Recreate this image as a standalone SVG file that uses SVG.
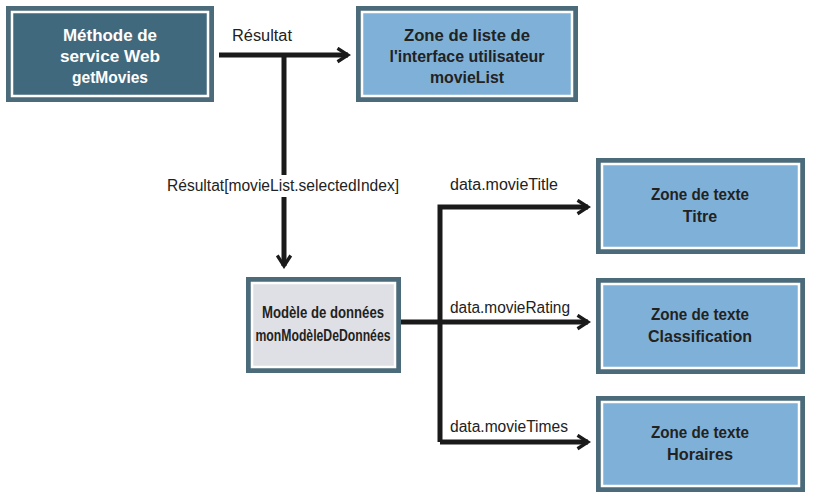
<svg xmlns="http://www.w3.org/2000/svg" width="814" height="492" viewBox="0 0 814 492">
<style>
.o{fill:#4b6b7b}
.t{font-family:"Liberation Sans Narrow","Liberation Sans",sans-serif;font-size:16px;font-weight:bold;text-anchor:middle;fill:#222}
.l{font-family:"Liberation Sans Narrow","Liberation Sans",sans-serif;font-size:16px;fill:#222}
.c{fill:none;stroke:#1a1a1a;stroke-width:5}
</style>
<defs>
<marker id="a" viewBox="0 0 10 10" refX="8" refY="5" markerWidth="3" markerHeight="3.4" orient="auto" markerUnits="strokeWidth">
<path d="M1,0.5 L8,5 L1,9.5" fill="none" stroke="#1a1a1a" stroke-width="2.2"/>
</marker>
</defs>
<rect width="814" height="492" fill="#fff"/>
<g id="n1"><rect class="o" x="6" y="6" width="208" height="96"/><rect x="12" y="12" width="196" height="84" fill="#41697d" stroke="#fff" stroke-width="2.5"/>
<text class="t" style="fill:#fff"><tspan x="110" y="41" textLength="94" lengthAdjust="spacingAndGlyphs">Méthode de</tspan><tspan x="110" y="62" textLength="100" lengthAdjust="spacingAndGlyphs">service Web</tspan><tspan x="110" y="83" textLength="76" lengthAdjust="spacingAndGlyphs">getMovies</tspan></text></g>
<g id="n2"><rect class="o" x="356" y="6" width="222" height="96"/><rect x="362" y="12" width="210" height="84" fill="#7fb1d8" stroke="#fff" stroke-width="2.5"/>
<text class="t"><tspan x="467" y="41" textLength="126" lengthAdjust="spacingAndGlyphs">Zone de liste de</tspan><tspan x="467" y="62" textLength="155" lengthAdjust="spacingAndGlyphs">l'interface utilisateur</tspan><tspan x="467" y="83" textLength="74" lengthAdjust="spacingAndGlyphs">movieList</tspan></text></g>
<g id="n3"><rect class="o" x="246" y="277" width="155" height="96"/><rect x="252" y="283" width="143" height="84" fill="#dfe0e5" stroke="#fff" stroke-width="2.5"/>
<text class="t"><tspan x="323" y="318" textLength="122" lengthAdjust="spacingAndGlyphs">Modèle de données</tspan><tspan x="323" y="341" textLength="135" lengthAdjust="spacingAndGlyphs">monModèleDeDonnées</tspan></text></g>
<g id="n4"><rect class="o" x="596" y="158" width="209" height="96"/><rect x="602" y="164" width="197" height="84" fill="#7fb1d8" stroke="#fff" stroke-width="2.5"/>
<text class="t"><tspan x="700" y="200" textLength="98" lengthAdjust="spacingAndGlyphs">Zone de texte</tspan><tspan x="700" y="222">Titre</tspan></text></g>
<g id="n5"><rect class="o" x="596" y="278" width="209" height="96"/><rect x="602" y="284" width="197" height="84" fill="#7fb1d8" stroke="#fff" stroke-width="2.5"/>
<text class="t"><tspan x="700" y="320" textLength="98" lengthAdjust="spacingAndGlyphs">Zone de texte</tspan><tspan x="700" y="342" textLength="104" lengthAdjust="spacingAndGlyphs">Classification</tspan></text></g>
<g id="n6"><rect class="o" x="596" y="396" width="209" height="96"/><rect x="602" y="402" width="197" height="84" fill="#7fb1d8" stroke="#fff" stroke-width="2.5"/>
<text class="t"><tspan x="700" y="438" textLength="98" lengthAdjust="spacingAndGlyphs">Zone de texte</tspan><tspan x="700" y="460" textLength="66" lengthAdjust="spacingAndGlyphs">Horaires</tspan></text></g>
<g id="connectors">
<path class="c" d="M219,55 H348" marker-end="url(#a)"/>
<path class="c" d="M284,57 V266" marker-end="url(#a)"/>
<path class="c" d="M401,322 H588" marker-end="url(#a)"/>
<path class="c" d="M440,442 V207 H588" marker-end="url(#a)"/>
<path class="c" d="M440,442 H588" marker-end="url(#a)"/>
<rect x="165" y="175" width="236" height="22" fill="#fff"/>
<text class="l" x="232" y="41" textLength="60" lengthAdjust="spacingAndGlyphs">Résultat</text>
<text class="l" x="283" y="191" text-anchor="middle" textLength="232" lengthAdjust="spacingAndGlyphs">Résultat[movieList.selectedIndex]</text>
<text class="l" x="450" y="190" textLength="108" lengthAdjust="spacingAndGlyphs">data.movieTitle</text>
<text class="l" x="450" y="313" textLength="120" lengthAdjust="spacingAndGlyphs">data.movieRating</text>
<text class="l" x="450" y="432" textLength="118" lengthAdjust="spacingAndGlyphs">data.movieTimes</text>
</g>
</svg>
